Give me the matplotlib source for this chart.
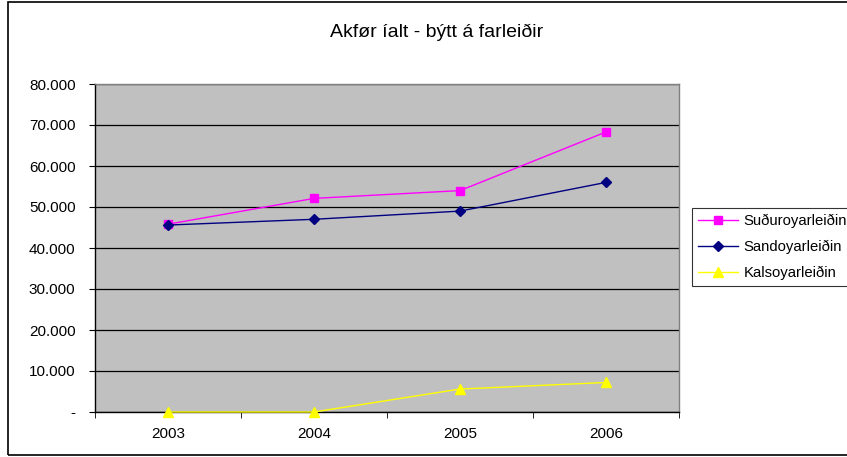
import matplotlib.pyplot as plt
import matplotlib.ticker as ticker
from matplotlib.patches import Rectangle

# Data
years = ['2003', '2004', '2005', '2006']
sudur = [45800, 52100, 54000, 68300]
sandoy = [45600, 47000, 49000, 56000]
kalsoy = [0, 0, 5600, 7200]
ytick_labels = ['-', '10.000', '20.000', '30.000', '40.000', '50.000', '60.000', '70.000', '80.000']

plt.rcParams['font.family'] = ['Liberation Sans', 'DejaVu Sans']

fig = plt.figure(figsize=(8.47, 4.57), dpi=100, facecolor='white')
ax = fig.add_axes([95 / 847, 1 - 412 / 457, 584 / 847, 328 / 457])
ax.set_facecolor('#C0C0C0')

# outer chart border
fig.patches.append(Rectangle((8 / 847, 2 / 457), 1, 1 - 4 / 457, transform=fig.transFigure,
                             fill=False, edgecolor='black', lw=1.2))

x = list(range(len(years)))
ax.plot(x, sudur, color='#FF00FF', marker='s', ms=6, lw=1, label='Suðuroyarleiðin', zorder=4)
ax.plot(x, sandoy, color='#000080', marker='D', ms=5.5, lw=1, label='Sandoyarleiðin', zorder=4)
ax.plot(x, kalsoy, color='#FFFF00', marker='^', ms=7, lw=1, label='Kalsoyarleiðin', zorder=4, clip_on=False)

ax.set_xlim(-0.5, 3.5)
ax.set_ylim(0, 80000)

ax.yaxis.set_major_locator(ticker.MultipleLocator(10000))
ax.set_yticks(range(0, 80001, 10000))
ax.set_yticklabels(ytick_labels)
ax.grid(axis='y', color='black', lw=0.9, zorder=1)
ax.set_axisbelow(True)

ax.set_xticks(x)
ax.set_xticklabels(years)
ax.set_xticks([-0.5, 0.5, 1.5, 2.5, 3.5], minor=True)
ax.tick_params(axis='x', which='major', length=0, pad=11, labelsize=11, colors='black')
ax.tick_params(axis='x', which='minor', length=4, direction='out', color='black')
ax.tick_params(axis='y', length=4, direction='out', labelsize=11, pad=10, color='black')

for side in ['left', 'bottom']:
    ax.spines[side].set_color('black')
    ax.spines[side].set_linewidth(1)
for side in ['top', 'right']:
    ax.spines[side].set_color('#808080')
    ax.spines[side].set_linewidth(1)

fig.text(437 / 847, 1 - 32 / 457, 'Akfør íalt - býtt á farleiðir', ha='center', va='center', fontsize=14)

leg = fig.legend(loc='upper left', bbox_to_anchor=(692 / 847, 1 - 208 / 457), fontsize=10.7,
                 frameon=True, fancybox=False, handlelength=2.7, borderpad=0.4,
                 labelspacing=0.78, handletextpad=0.35, borderaxespad=0)
leg.get_frame().set_edgecolor('black')
leg.get_frame().set_linewidth(0.8)

fig.savefig('out.png', dpi=100)
